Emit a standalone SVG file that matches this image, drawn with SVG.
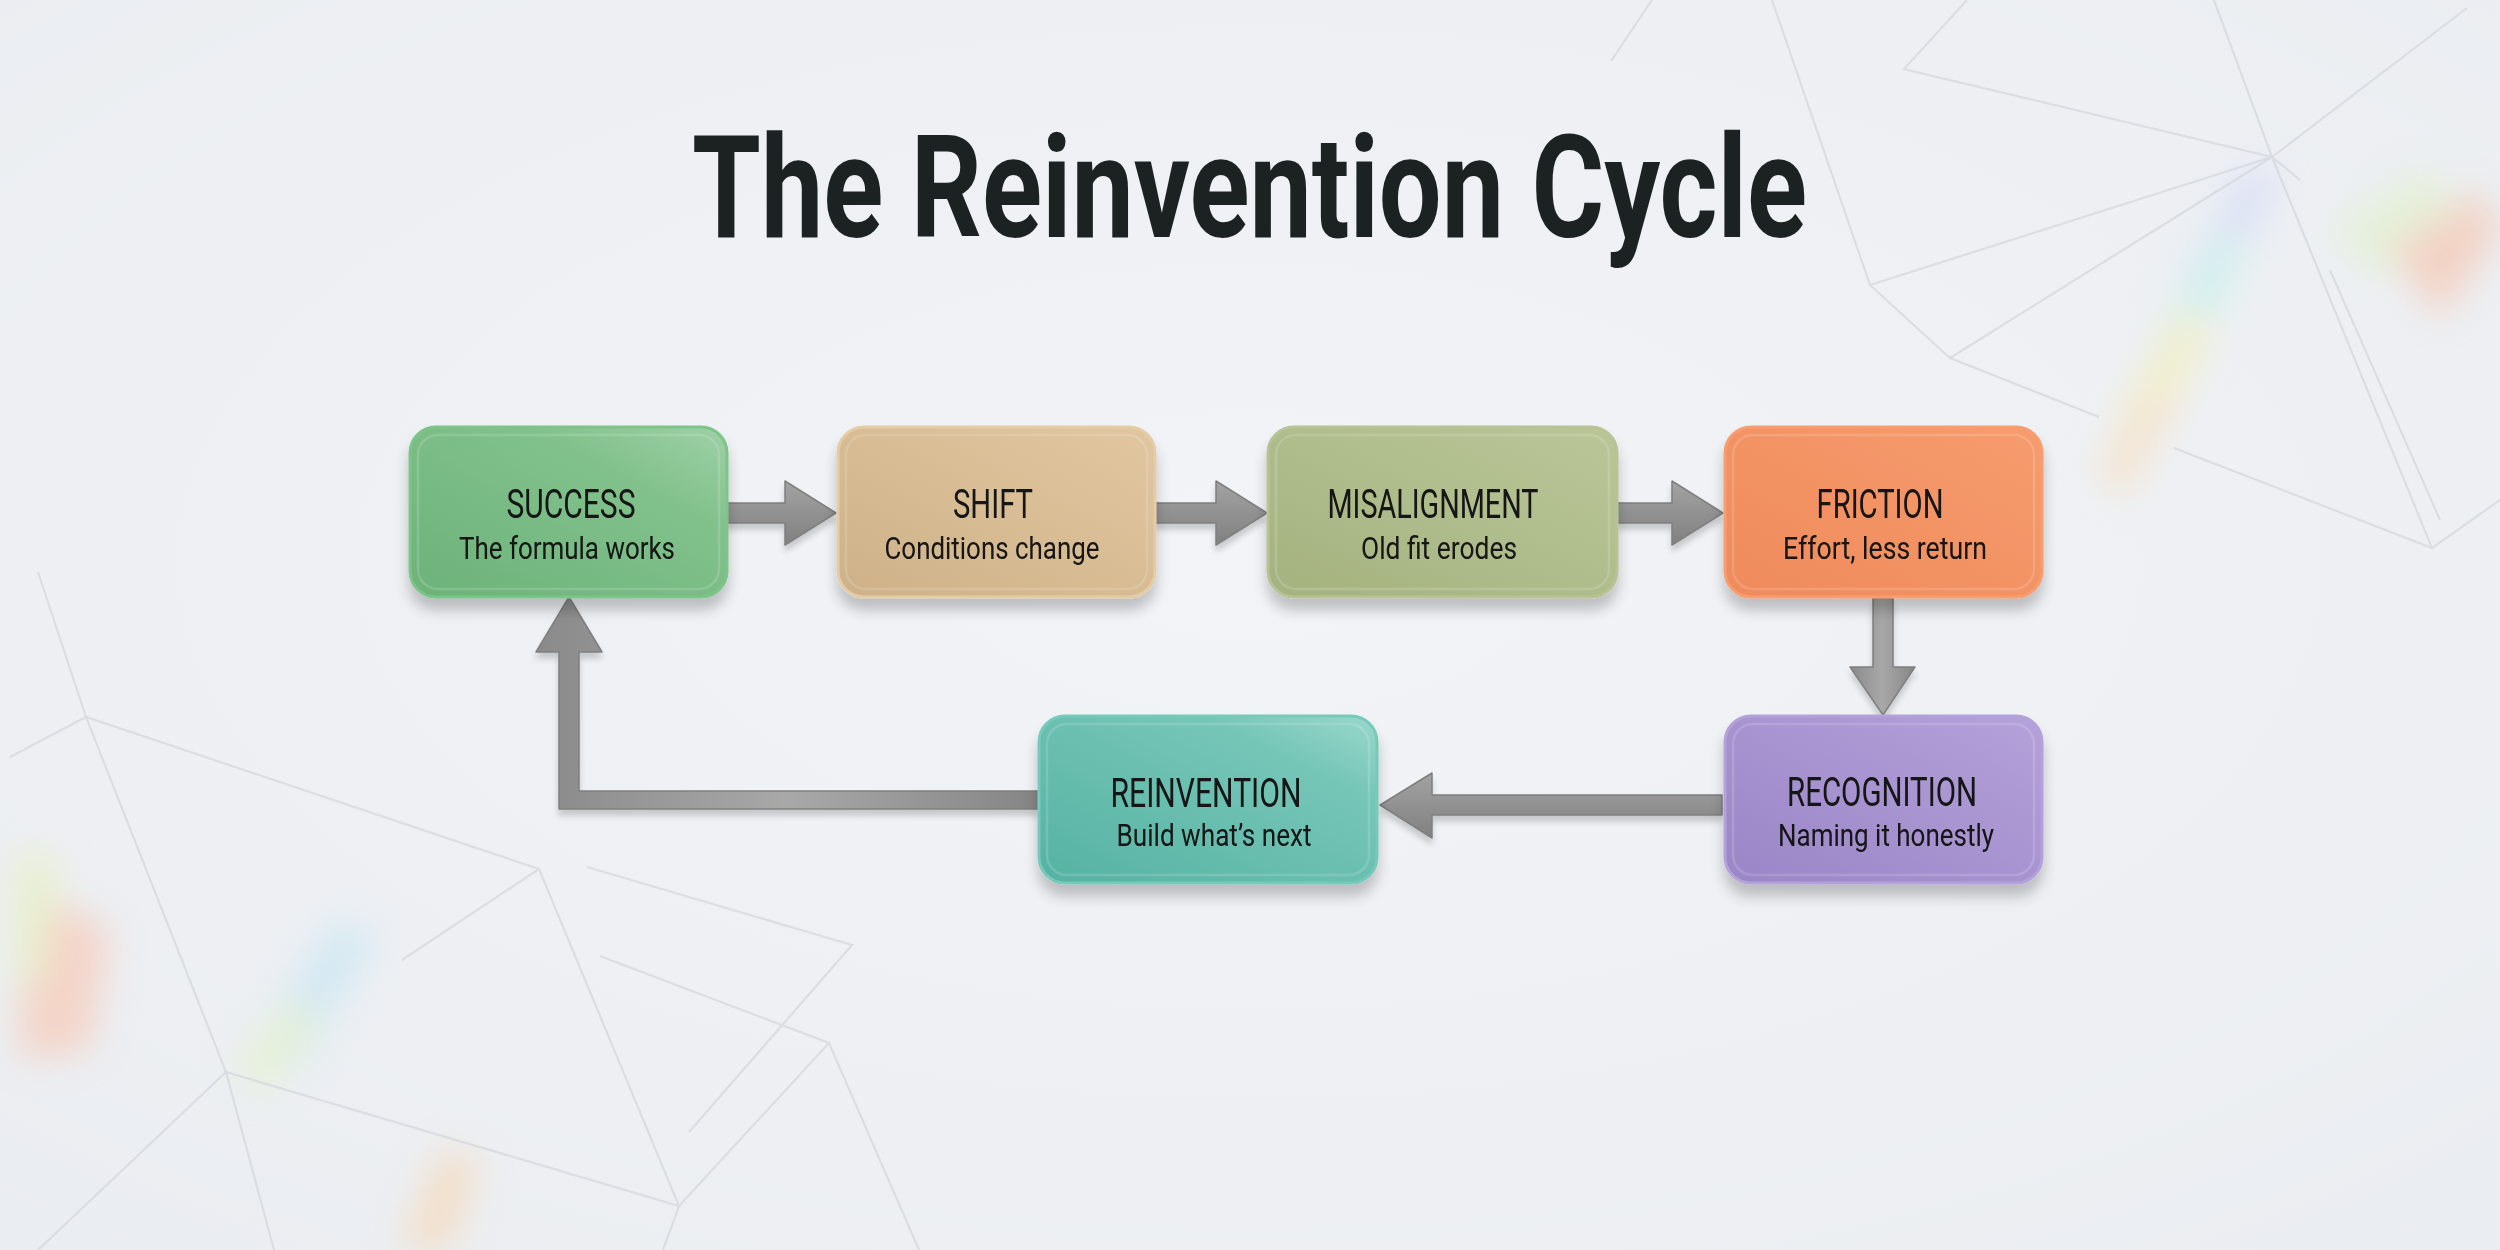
<svg xmlns="http://www.w3.org/2000/svg" width="2500" height="1250" viewBox="0 0 2500 1250">
<defs>
<style>
.bgl{fill:none;stroke:#d6d9de;stroke-width:2.2;opacity:.8}
.box{stroke-width:3}
.inner{fill:none;stroke:#ffffff;stroke-opacity:.15;stroke-width:2.5}
.t1{font-family:Roboto,"Liberation Sans",sans-serif;font-size:40px;fill:#121212;text-anchor:middle}
.t2{font-family:Roboto,"Liberation Sans",sans-serif;font-size:32px;fill:#121212;text-anchor:middle}
.title{font-family:Roboto,"Liberation Sans",sans-serif;font-weight:700;font-size:142px;fill:#1c2221}
.arr{fill:url(#ag);stroke:#7f7f7f;stroke-width:1.5;stroke-linejoin:round}
</style>
<radialGradient id="bgg" cx="0.5" cy="0.45" r="0.75">
<stop offset="0" stop-color="#f2f4f7"/>
<stop offset="1" stop-color="#eaedf1"/>
</radialGradient>
<linearGradient id="ag" x1="0" y1="0" x2="0" y2="1">
<stop offset="0" stop-color="#a3a3a3"/>
<stop offset="1" stop-color="#808080"/>
</linearGradient>
<linearGradient id="agv" x1="0" y1="0" x2="1" y2="0">
<stop offset="0" stop-color="#8a8a8a"/>
<stop offset="0.5" stop-color="#a8a8a8"/>
<stop offset="1" stop-color="#858585"/>
</linearGradient>
<linearGradient id="gS" x1="0" y1="1" x2="1" y2="0"><stop offset="0" stop-color="#6cb279"/><stop offset="0.7" stop-color="#82c18c"/><stop offset="1" stop-color="#9fd1a7"/></linearGradient>
<linearGradient id="gH" x1="0" y1="1" x2="1" y2="0"><stop offset="0" stop-color="#ceb189"/><stop offset="1" stop-color="#e1c7a0"/></linearGradient>
<linearGradient id="gM" x1="0" y1="1" x2="1" y2="0"><stop offset="0" stop-color="#a4b27f"/><stop offset="1" stop-color="#bac698"/></linearGradient>
<linearGradient id="gF" x1="0" y1="1" x2="1" y2="0"><stop offset="0" stop-color="#ef8a5b"/><stop offset="1" stop-color="#f69c6e"/></linearGradient>
<linearGradient id="gR" x1="0" y1="1" x2="1" y2="0"><stop offset="0" stop-color="#9a85c6"/><stop offset="1" stop-color="#b4a2da"/></linearGradient>
<linearGradient id="gT" x1="0" y1="1" x2="1" y2="0"><stop offset="0" stop-color="#55b2a2"/><stop offset="0.75" stop-color="#76c6b8"/><stop offset="1" stop-color="#9ad8cc"/></linearGradient>
<filter id="sh" x="-10%" y="-20%" width="120%" height="150%">
<feGaussianBlur in="SourceAlpha" stdDeviation="7"/>
<feOffset dy="12"/>
<feComponentTransfer><feFuncA type="linear" slope="0.22"/></feComponentTransfer>
<feMerge><feMergeNode/><feMergeNode in="SourceGraphic"/></feMerge>
</filter>
<filter id="ash" x="-10%" y="-50%" width="120%" height="200%">
<feGaussianBlur in="SourceAlpha" stdDeviation="3"/>
<feOffset dy="6"/>
<feComponentTransfer><feFuncA type="linear" slope="0.18"/></feComponentTransfer>
<feMerge><feMergeNode/><feMergeNode in="SourceGraphic"/></feMerge>
</filter>
<filter id="blur" x="-50%" y="-50%" width="200%" height="200%"><feGaussianBlur stdDeviation="18"/></filter>
</defs>

<rect width="2500" height="1250" fill="url(#bgg)"/>

<g id="background">
<g filter="url(#blur)" opacity="0.6">
<polygon points="2180,280 2250,165 2280,180 2210,310" fill="#cfd6f7"/>
<polygon points="2150,350 2215,230 2250,245 2185,380" fill="#c2f0ea"/>
<polygon points="2115,420 2180,310 2215,325 2150,450" fill="#f4eeb0"/>
<polygon points="2095,470 2150,390 2180,400 2125,500" fill="#f8dcb8"/>
<polygon points="2330,230 2420,170 2460,195 2380,280" fill="#e0f1c8"/>
<polygon points="2390,250 2480,190 2500,230 2440,320" fill="#f7bfa5"/>
<polygon points="20,880 110,930 90,1050 20,1060" fill="#f9c2ab"/>
<polygon points="15,850 60,860 40,980 15,990" fill="#e4f1b5"/>
<polygon points="260,1030 335,920 380,935 300,1070" fill="#c3e4f2"/>
<polygon points="235,1070 290,1000 320,1020 265,1095" fill="#e1f3c0"/>
<polygon points="400,1250 440,1150 480,1160 450,1250" fill="#f8d4ab"/>
</g>
<g class="bgl">
<polyline points="1611,61 1652,0"/>
<polyline points="1772,0 1870,285 2272,157 2467,8"/>
<polyline points="1967,0 1904,69 2272,157 2214,0"/>
<polyline points="1870,285 1950,358 2099,417"/>
<polyline points="1950,358 2272,157"/>
<polyline points="2272,157 2300,180"/>
<polyline points="2272,157 2432,548 2174,448"/>
<polyline points="2432,548 2500,500"/>
<polyline points="2330,270 2440,520"/>
<polyline points="38,572 86,717 226,1072 274,1250"/>
<polyline points="10,757 86,717 539,869 679,1206 226,1072 38,1250"/>
<polyline points="539,869 402,960"/>
<polyline points="587,867 852,945 689,1132"/>
<polyline points="600,956 829,1043 679,1206 663,1250"/>
<polyline points="829,1043 919,1250"/>
</g>
</g>

<text class="title" x="692" y="237" textLength="1115" lengthAdjust="spacingAndGlyphs">The Reinvention Cycle</text>

<g id="connectors">
<g filter="url(#ash)">
<path class="arr" d="M727,503 H785 V481 L836,513 L785,545 V523 H727 Z"/>
<path class="arr" d="M1155,503 H1216 V481 L1267,513 L1216,545 V523 H1155 Z"/>
<path class="arr" d="M1617,503 H1672 V481 L1723,513 L1672,545 V523 H1617 Z"/>
<path class="arr" d="M1873,598 H1893 V667 H1915 L1883,715 L1850,667 H1873 Z" style="fill:url(#agv)"/>
<path class="arr" d="M1722,795 H1432 V773 L1380,805 L1432,838 V815 H1722 Z"/>
<path class="arr" d="M1039,791 H579 V652 H602 L569,597 L536,652 H559 V809 H1039 Z" style="fill:url(#agv)"/>
</g>
</g>

<g id="success" filter="url(#sh)">
<rect class="box" x="410" y="427" width="317" height="170" rx="26" fill="url(#gS)" stroke="#7cc487"/>
<rect class="inner" x="418" y="435" width="301" height="154" rx="20"/>
<text class="t1" x="571" y="518" textLength="129" lengthAdjust="spacingAndGlyphs">SUCCESS</text>
<text class="t2" x="567" y="559" textLength="216" lengthAdjust="spacingAndGlyphs">The formula works</text>
</g>

<g id="shift" filter="url(#sh)">
<rect class="box" x="838" y="427" width="317" height="170" rx="26" fill="url(#gH)" stroke="#e4cda6"/>
<rect class="inner" x="846" y="435" width="301" height="154" rx="20"/>
<text class="t1" x="993" y="518" textLength="80" lengthAdjust="spacingAndGlyphs">SHIFT</text>
<text class="t2" x="992" y="559" textLength="215" lengthAdjust="spacingAndGlyphs">Conditions change</text>
</g>

<g id="misalignment" filter="url(#sh)">
<rect class="box" x="1268" y="427" width="349" height="170" rx="26" fill="url(#gM)" stroke="#b7c394"/>
<rect class="inner" x="1276" y="435" width="333" height="154" rx="20"/>
<text class="t1" x="1433" y="518" textLength="211" lengthAdjust="spacingAndGlyphs">MISALIGNMENT</text>
<text class="t2" x="1439" y="559" textLength="156" lengthAdjust="spacingAndGlyphs">Old fit erodes</text>
</g>

<g id="friction" filter="url(#sh)">
<rect class="box" x="1725" y="427" width="317" height="170" rx="26" fill="url(#gF)" stroke="#f79d70"/>
<rect class="inner" x="1733" y="435" width="301" height="154" rx="20"/>
<text class="t1" x="1880" y="518" textLength="127" lengthAdjust="spacingAndGlyphs">FRICTION</text>
<text class="t2" x="1885" y="559" textLength="204" lengthAdjust="spacingAndGlyphs">Effort, less return</text>
</g>

<g id="recognition" filter="url(#sh)">
<rect class="box" x="1725" y="716" width="317" height="167" rx="26" fill="url(#gR)" stroke="#b3a2da"/>
<rect class="inner" x="1733" y="724" width="301" height="151" rx="20"/>
<text class="t1" x="1882" y="806" textLength="190" lengthAdjust="spacingAndGlyphs">RECOGNITION</text>
<text class="t2" x="1886" y="846" textLength="216" lengthAdjust="spacingAndGlyphs">Naming it honestly</text>
</g>

<g id="reinvention" filter="url(#sh)">
<rect class="box" x="1039" y="716" width="338" height="167" rx="26" fill="url(#gT)" stroke="#77c9ba"/>
<rect class="inner" x="1047" y="724" width="322" height="151" rx="20"/>
<text class="t1" x="1206" y="807" textLength="191" lengthAdjust="spacingAndGlyphs">REINVENTION</text>
<text class="t2" x="1214" y="846" textLength="195" lengthAdjust="spacingAndGlyphs">Build what’s next</text>
</g>
</svg>
